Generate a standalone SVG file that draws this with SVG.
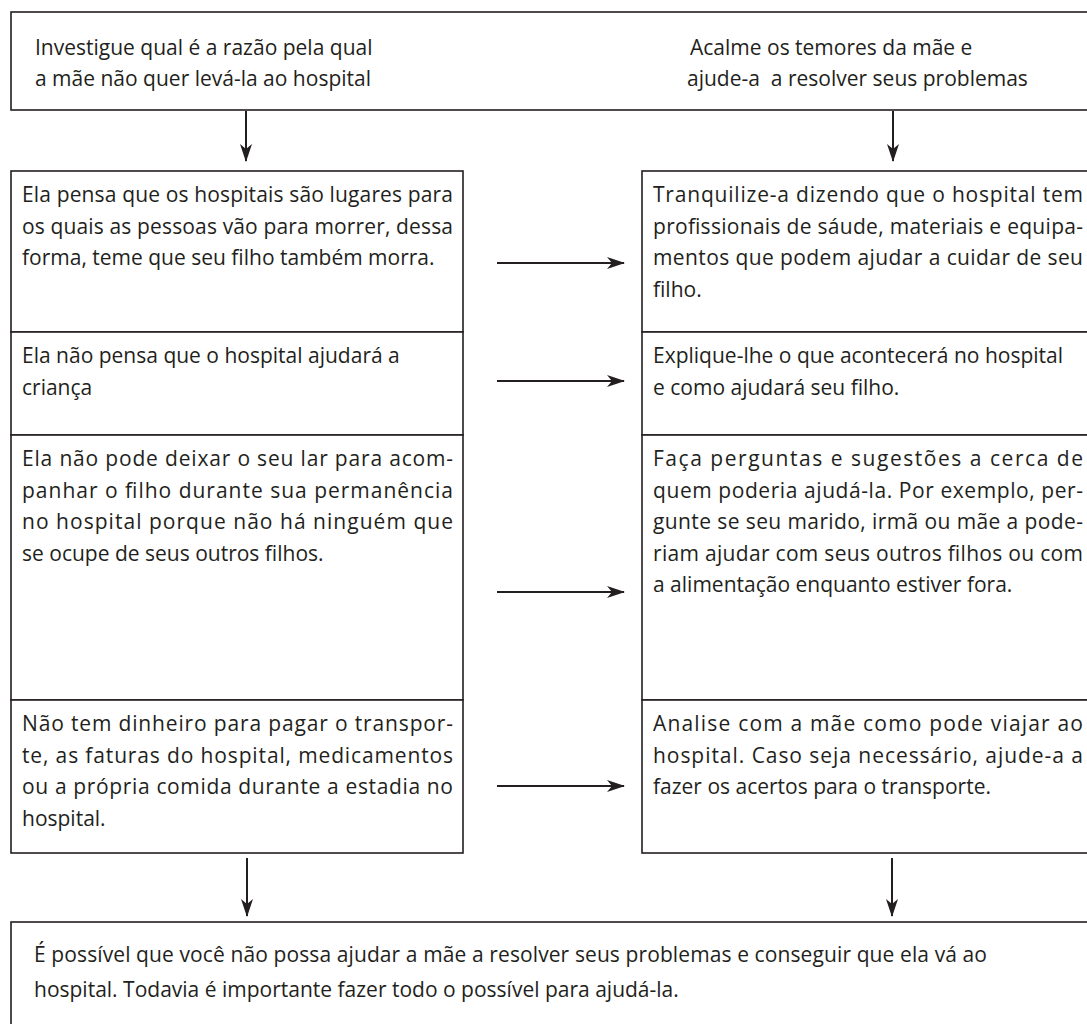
<svg xmlns="http://www.w3.org/2000/svg" width="1087" height="1024" viewBox="0 0 1087 1024">
<style>
.bx{fill:#fff;stroke:#231f20;stroke-width:1.6}
.t{font-family:"Open Sans","Noto Sans","Liberation Sans",sans-serif;font-size:21px;fill:#231f20}
.ln{stroke:#231f20;stroke-width:2;fill:none}
</style>
<defs>
<marker id="ah" viewBox="0 0 18 12" refX="17" refY="6" markerWidth="18" markerHeight="12" markerUnits="userSpaceOnUse" orient="auto">
<path d="M0,0 L18,6 L0,12 L5,6 Z" fill="#231f20"/>
</marker>
</defs>
<rect width="1087" height="1024" fill="#fff"/>

<g id="top">
<rect class="bx" x="11" y="12" width="1090" height="98"/>
<text class="t" x="35" y="55">Investigue qual é a razão pela qual</text>
<text class="t" x="35" y="86">a mãe não quer levá-la ao hospital</text>
<text class="t" x="690" y="55">Acalme os temores da mãe e</text>
<text class="t" x="687" y="86" xml:space="preserve">ajude-a  a resolver seus problemas</text>
</g>

<g id="L1">
<rect class="bx" x="11" y="171" width="452" height="161"/>
<text class="t" x="22" y="202" textLength="431" lengthAdjust="spacing">Ela pensa que os hospitais são lugares para</text>
<text class="t" x="22" y="233.5" textLength="431" lengthAdjust="spacing">os quais as pessoas vão para morrer, dessa</text>
<text class="t" x="22" y="265">forma, teme que seu filho também morra.</text>
</g>
<g id="L2">
<rect class="bx" x="11" y="332" width="452" height="103"/>
<text class="t" x="22" y="363">Ela não pensa que o hospital ajudará a</text>
<text class="t" x="22" y="394.5">criança</text>
</g>
<g id="L3">
<rect class="bx" x="11" y="435" width="452" height="265"/>
<text class="t" x="22" y="466" textLength="431" lengthAdjust="spacing">Ela não pode deixar o seu lar para acom-</text>
<text class="t" x="22" y="497.5" textLength="431" lengthAdjust="spacing">panhar o filho durante sua permanência</text>
<text class="t" x="22" y="529" textLength="431" lengthAdjust="spacing">no hospital porque não há ninguém que</text>
<text class="t" x="22" y="560.5">se ocupe de seus outros filhos.</text>
</g>
<g id="L4">
<rect class="bx" x="11" y="700" width="452" height="153"/>
<text class="t" x="22" y="731" textLength="431" lengthAdjust="spacing">Não tem dinheiro para pagar o transpor-</text>
<text class="t" x="22" y="762.5" textLength="431" lengthAdjust="spacing">te, as faturas do hospital, medicamentos</text>
<text class="t" x="22" y="794" textLength="431" lengthAdjust="spacing">ou a própria comida durante a estadia no</text>
<text class="t" x="22" y="825.5">hospital.</text>
</g>

<g id="R1">
<rect class="bx" x="642" y="171" width="460" height="161"/>
<text class="t" x="653" y="202" textLength="430" lengthAdjust="spacing">Tranquilize-a dizendo que o hospital tem</text>
<text class="t" x="653" y="233.5" textLength="430" lengthAdjust="spacing">profissionais de sáude, materiais e equipa-</text>
<text class="t" x="653" y="265" textLength="430" lengthAdjust="spacing">mentos que podem ajudar a cuidar de seu</text>
<text class="t" x="653" y="296.5">filho.</text>
</g>
<g id="R2">
<rect class="bx" x="642" y="332" width="460" height="103"/>
<text class="t" x="653" y="363">Explique-lhe o que acontecerá no hospital</text>
<text class="t" x="653" y="394.5">e como ajudará seu filho.</text>
</g>
<g id="R3">
<rect class="bx" x="642" y="435" width="460" height="265"/>
<text class="t" x="653" y="466" textLength="430" lengthAdjust="spacing">Faça perguntas e sugestões a cerca de</text>
<text class="t" x="653" y="497.5" textLength="430" lengthAdjust="spacing">quem poderia ajudá-la. Por exemplo, per-</text>
<text class="t" x="653" y="529" textLength="430" lengthAdjust="spacing">gunte se seu marido, irmã ou mãe a pode-</text>
<text class="t" x="653" y="560.5" textLength="430" lengthAdjust="spacing">riam ajudar com seus outros filhos ou com</text>
<text class="t" x="653" y="592">a alimentação enquanto estiver fora.</text>
</g>
<g id="R4">
<rect class="bx" x="642" y="700" width="460" height="153"/>
<text class="t" x="653" y="731" textLength="430" lengthAdjust="spacing">Analise com a mãe como pode viajar ao</text>
<text class="t" x="653" y="762.5" textLength="430" lengthAdjust="spacing">hospital. Caso seja necessário, ajude-a a</text>
<text class="t" x="653" y="794">fazer os acertos para o transporte.</text>
</g>

<g id="bottom">
<rect class="bx" x="11" y="922" width="1090" height="120"/>
<text class="t" x="34" y="962" textLength="953" lengthAdjust="spacing">É possível que você não possa ajudar a mãe a resolver seus problemas e conseguir que ela vá ao</text>
<text class="t" x="34" y="997">hospital. Todavia é importante fazer todo o possível para ajudá-la.</text>
</g>

<g id="connectors">
<line class="ln" x1="246" y1="111" x2="246" y2="161" marker-end="url(#ah)"/>
<line class="ln" x1="893" y1="111" x2="893" y2="161" marker-end="url(#ah)"/>
<line class="ln" x1="497" y1="263" x2="624" y2="263" marker-end="url(#ah)"/>
<line class="ln" x1="497" y1="381" x2="624" y2="381" marker-end="url(#ah)"/>
<line class="ln" x1="497" y1="592" x2="624" y2="592" marker-end="url(#ah)"/>
<line class="ln" x1="497" y1="786" x2="624" y2="786" marker-end="url(#ah)"/>
<line class="ln" x1="247" y1="858" x2="247" y2="916" marker-end="url(#ah)"/>
<line class="ln" x1="892" y1="858" x2="892" y2="916" marker-end="url(#ah)"/>
</g>
</svg>
